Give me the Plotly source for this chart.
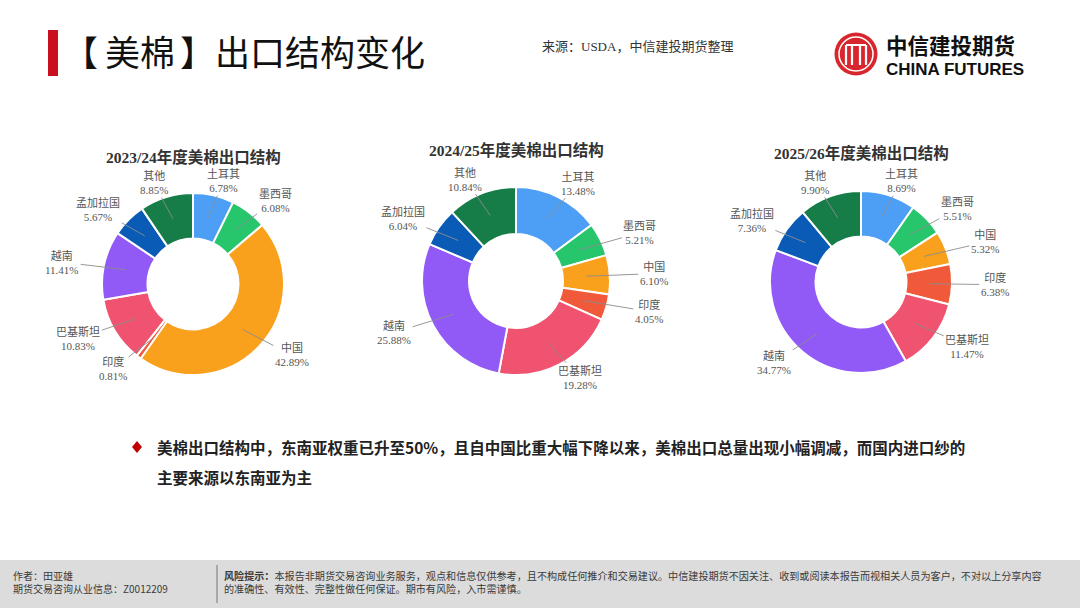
import math
import plotly.graph_objects as go

W, H = 1080, 608

# ---------------- data ----------------
countries = ["土耳其", "墨西哥", "中国", "印度", "巴基斯坦", "越南", "孟加拉国", "其他"]
share_2324 = [6.78, 6.08, 42.89, 0.81, 10.83, 11.41, 5.67, 8.85]
share_2425 = [13.48, 5.21, 6.10, 4.05, 19.28, 25.88, 6.04, 10.84]
share_2526 = [8.69, 5.51, 5.32, 6.38, 11.47, 34.77, 7.36, 9.90]
chart_titles = ["2023/24年度美棉出口结构", "2024/25年度美棉出口结构", "2025/26年度美棉出口结构"]

# ---------------- styles ----------------
slice_colors = ["#4c9ff4", "#27c66d", "#f9a11c", "#f05a3a",
                "#f0536f", "#9159f5", "#0a5bb6", "#167c48"]
CN = "Noto Sans CJK SC"
SERIF = "Liberation Serif, Noto Sans CJK SC"

# pixel geometry of each donut (centre, radius, title line)
geom = [
    dict(cx=193, cy=284, r=91, ty=157),
    dict(cx=516, cy=281, r=94, ty=150),
    dict(cx=861, cy=282, r=91, ty=153),
]
series = [share_2324, share_2425, share_2526]


def px(x):
    return x / W


def py(y):
    return 1 - y / H


def text_ann(x, y, text, font, xanchor="left", yanchor="middle", **kw):
    d = dict(x=px(x), y=py(y), xref="paper", yref="paper", text=text,
             showarrow=False, xanchor=xanchor, yanchor=yanchor, font=font)
    d.update(kw)
    return d


fig = go.Figure()
annotations = []
shapes = []

for vals, g, title in zip(series, geom, chart_titles):
    cx, cy, r = g["cx"], g["cy"], g["r"]
    fig.add_trace(go.Pie(
        values=vals, labels=countries, sort=False, direction="clockwise",
        rotation=0, hole=0.5, textinfo="none", hoverinfo="label+value",
        marker=dict(colors=slice_colors, line=dict(color="white", width=2)),
        domain=dict(x=[px(cx - r), px(cx + r)], y=[py(cy + r), py(cy - r)]),
        showlegend=False,
    ))
    annotations.append(text_ann(cx, g["ty"], title,
                                dict(family=SERIF, size=15.5, color="#333333", weight="bold"),
                                xanchor="center"))
    total = sum(vals)
    cum = 0.0
    for name, v in zip(countries, vals):
        mid = (cum + v / 2) / total * 2 * math.pi
        cum += v
        s, c = math.sin(mid), math.cos(mid)
        tip_x, tip_y = cx + 0.75 * r * s, cy - 0.75 * r * c
        lab_x, lab_y = cx + 1.47 * r * s, cy - 1.16 * r * c
        annotations.append(dict(
            x=px(tip_x), y=py(tip_y), xref="paper", yref="paper",
            axref="pixel", ayref="pixel",
            ax=lab_x - tip_x, ay=lab_y - tip_y,
            text=f"{name}<br>{v:.2f}%", showarrow=True, arrowhead=0,
            arrowwidth=0.9, arrowcolor="#8c8c8c", standoff=0,
            xanchor="center", yanchor="middle", align="center",
            font=dict(family=SERIF, size=11, color="#555555"),
        ))

# ---------------- header ----------------
shapes.append(dict(type="rect", xref="paper", yref="paper",
                   x0=px(48), x1=px(58), y0=py(76), y1=py(30),
                   fillcolor="#c8101e", line=dict(width=0)))
title_font = dict(family=CN, size=35, color="#111111")
annotations.append(text_ann(80, 51, "【", title_font, xanchor="center"))
annotations.append(text_ann(103, 51, "美棉", title_font))
annotations.append(text_ann(197, 51, "】", title_font, xanchor="center"))
annotations.append(text_ann(213, 51, "出口结构变化", title_font))
annotations.append(text_ann(540, 47, "来源：USDA，中信建投期货整理",
                            dict(family=SERIF, size=13, color="#333333")))

# logo
lcx, lcy, lr = 856, 54, 21.5
shapes.append(dict(type="circle", xref="paper", yref="paper",
                   x0=px(lcx - lr), x1=px(lcx + lr), y0=py(lcy + lr), y1=py(lcy - lr),
                   fillcolor="#d7262d", line=dict(width=0)))
shapes.append(dict(type="circle", xref="paper", yref="paper",
                   x0=px(lcx - 17), x1=px(lcx + 17), y0=py(lcy + 17), y1=py(lcy - 17),
                   fillcolor="rgba(0,0,0,0)", line=dict(color="white", width=1.5)))
for dx in (-10, -4, 4, 10):
    shapes.append(dict(type="line", xref="paper", yref="paper",
                       x0=px(lcx + dx), x1=px(lcx + dx), y0=py(lcy + 11), y1=py(lcy - 9),
                       line=dict(color="white", width=2.2)))
shapes.append(dict(type="line", xref="paper", yref="paper",
                   x0=px(lcx - 10), x1=px(lcx + 10), y0=py(lcy - 9), y1=py(lcy - 9),
                   line=dict(color="white", width=2)))
annotations.append(text_ann(884, 44, "<b>中信建投期货</b>",
                            dict(family=CN, size=21.5, color="#111111")))
annotations.append(text_ann(884, 69, "<b>CHINA FUTURES</b>",
                            dict(family="Liberation Sans", size=17, color="#111111")))

# ---------------- bullet text ----------------
shapes.append(dict(type="path", xref="paper", yref="paper",
                   path=(f"M {px(137)} {py(441)} L {px(142)} {py(447)} "
                         f"L {px(137)} {py(453)} L {px(132)} {py(447)} Z"),
                   fillcolor="#c00000", line=dict(width=0)))
bullet_font = dict(family=CN, size=15.5, color="#222222", weight="bold")
annotations.append(text_ann(
    155, 447,
    "美棉出口结构中，东南亚权重已升至50%，且自中国比重大幅下降以来，美棉出口总量出现小幅调减，而国内进口纱的",
    bullet_font))
annotations.append(text_ann(155, 477, "主要来源以东南亚为主", bullet_font))

# ---------------- footer ----------------
shapes.append(dict(type="rect", xref="paper", yref="paper", layer="below",
                   x0=0, x1=1, y0=0, y1=py(560),
                   fillcolor="#dcdcdc", line=dict(width=0)))
shapes.append(dict(type="line", xref="paper", yref="paper",
                   x0=px(217), x1=px(217), y0=py(565), y1=py(603),
                   line=dict(color="#777777", width=1)))
foot_font = dict(family=CN, size=10, color="#3a3a3a")
annotations += [
    text_ann(11, 575, "作者：田亚雄", foot_font),
    text_ann(11, 588, "期货交易咨询从业信息：Z0012209", foot_font),
    text_ann(222, 575,
             "<b>风险提示：</b>本报告非期货交易咨询业务服务，观点和信息仅供参考，且不构成任何推介和交易建议。"
             "中信建投期货不因关注、收到或阅读本报告而视相关人员为客户，不对以上分享内容",
             dict(family=CN, size=10.1, color="#3a3a3a")),
    text_ann(222, 588, "的准确性、有效性、完整性做任何保证。期市有风险，入市需谨慎。",
             dict(family=CN, size=10.1, color="#3a3a3a")),
]

fig.update_layout(
    width=W, height=H, margin=dict(l=0, r=0, t=0, b=0),
    paper_bgcolor="white", plot_bgcolor="white",
    annotations=annotations, shapes=shapes,
)
fig.write_html("out.html")
